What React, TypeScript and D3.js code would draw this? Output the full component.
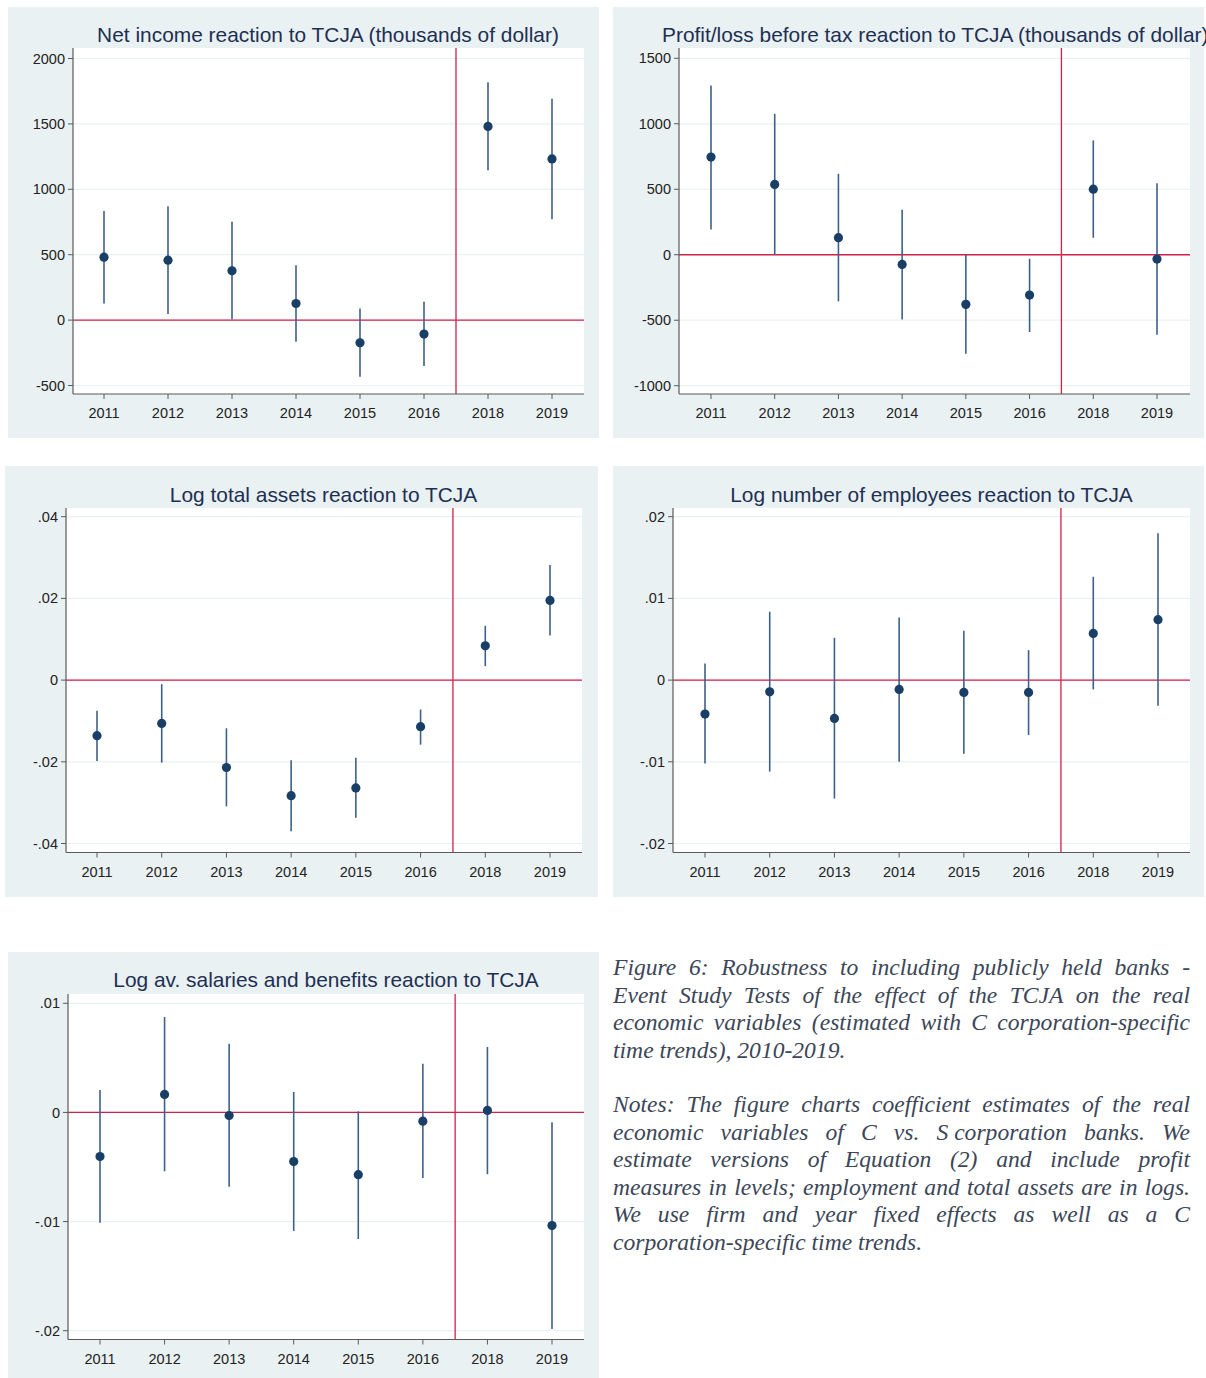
import React, { useMemo } from "react";
import * as d3 from "d3";

// ---------- DATA ----------
const years = ["2011", "2012", "2013", "2014", "2015", "2016", "2018", "2019"];

const netIncomeTitle = "Net income reaction to TCJA (thousands of dollar)";
const netIncomeCoef = [481, 458, 377, 127, -173, -107, 1481, 1232];
const netIncomeLow = [127, 46, 5, -165, -433, -351, 1145, 771];
const netIncomeHigh = [835, 870, 751, 420, 89, 140, 1819, 1692];
const netIncomeTicks = [-500, 0, 500, 1000, 1500, 2000];
const netIncomeTickLabels = ["-500", "0", "500", "1000", "1500", "2000"];

const profitTitle = "Profit/loss before tax reaction to TCJA (thousands of dollar)";
const profitCoef = [746, 537, 130, -74, -379, -308, 501, -33];
const profitLow = [193, 0, -356, -494, -756, -590, 130, -611];
const profitHigh = [1293, 1076, 618, 344, 0, -31, 873, 545];
const profitTicks = [-1000, -500, 0, 500, 1000, 1500];
const profitTickLabels = ["-1000", "-500", "0", "500", "1000", "1500"];

const assetsTitle = "Log total assets reaction to TCJA";
const assetsCoef = [-0.0136, -0.0106, -0.0214, -0.0283, -0.0264, -0.0114, 0.0084, 0.0195];
const assetsLow = [-0.0198, -0.0202, -0.0309, -0.037, -0.0337, -0.0158, 0.0034, 0.0109];
const assetsHigh = [-0.0075, -0.001, -0.0118, -0.0196, -0.019, -0.0072, 0.0133, 0.0282];
const assetsTicks = [-0.04, -0.02, 0, 0.02, 0.04];
const assetsTickLabels = ["-.04", "-.02", "0", ".02", ".04"];

const employeesTitle = "Log number of employees reaction to TCJA";
const employeesCoef = [-0.00416, -0.00143, -0.00469, -0.00114, -0.00151, -0.00151, 0.00571, 0.00739];
const employeesLow = [-0.0102, -0.0112, -0.0145, -0.01, -0.009, -0.00673, -0.00114, -0.00314];
const employeesHigh = [0.00204, 0.00837, 0.00518, 0.00767, 0.00604, 0.00367, 0.01265, 0.01796];
const employeesTicks = [-0.02, -0.01, 0, 0.01, 0.02];
const employeesTickLabels = ["-.02", "-.01", "0", ".01", ".02"];

const salariesTitle = "Log av. salaries and benefits reaction to TCJA";
const salariesCoef = [-0.00404, 0.00165, -0.00028, -0.0045, -0.0057, -0.0008, 0.00018, -0.01037];
const salariesLow = [-0.0101, -0.0054, -0.0068, -0.01086, -0.0116, -0.006, -0.00566, -0.01985];
const salariesHigh = [0.00205, 0.00875, 0.0063, 0.00187, 0.0001, 0.00447, 0.006, -0.00089];
const salariesTicks = [-0.02, -0.01, 0, 0.01];
const salariesTickLabels = ["-.02", "-.01", "0", ".01"];

const captionParagraph1 = [
  "Figure 6: Robustness to including publicly held banks -",
  "Event Study Tests of the effect of the TCJA on the real",
  "economic variables (estimated with C corporation-specific",
  "time trends), 2010-2019.",
];
const captionParagraph2 = [
  "Notes: The figure charts coefficient estimates of the real",
  "economic variables of C vs. S\u00A0corporation banks. We",
  "estimate versions of Equation (2) and include profit",
  "measures in levels; employment and total assets are in logs.",
  "We use firm and year fixed effects as well as a C",
  "corporation-specific time trends.",
];

// ---------- STYLE ----------
const BG = "#eaf1f3";
const GRID = "#eaf1f3";
const AXIS = "#5a5a5a";
const RED = "#d41f49";
const CI = "#3e6088";
const DOT = "#1a3f66";
const TITLE = "#1d2f52";
const TICK = "#222222";
const SANS = "Arimo, 'Liberation Sans', Arial, sans-serif";
const SERIF = "'Liberation Serif', 'Times New Roman', serif";

type Layout = {
  bg: [number, number, number, number];
  l: number; r: number; t: number; b: number;
  x0: number; x1: number;
  yDomain: [number, number];
  yRange: [number, number];
  title: { x: number; y: number; anchor: "start" | "middle" };
};

const panels = [
  {
    title: netIncomeTitle, coef: netIncomeCoef, low: netIncomeLow, high: netIncomeHigh,
    ticks: netIncomeTicks, tickLabels: netIncomeTickLabels,
    layout: { bg: [8, 7, 591, 431], l: 73, r: 584, t: 48, b: 394, x0: 104, x1: 552,
      yDomain: [-500, 2000], yRange: [385.5, 58.5], title: { x: 328, y: 42, anchor: "middle" } } as Layout,
  },
  {
    title: profitTitle, coef: profitCoef, low: profitLow, high: profitHigh,
    ticks: profitTicks, tickLabels: profitTickLabels,
    layout: { bg: [613, 7, 591, 431], l: 679, r: 1190, t: 48, b: 394, x0: 711, x1: 1157,
      yDomain: [-1000, 1500], yRange: [385.7, 58.3], title: { x: 662, y: 42, anchor: "start" } } as Layout,
  },
  {
    title: assetsTitle, coef: assetsCoef, low: assetsLow, high: assetsHigh,
    ticks: assetsTicks, tickLabels: assetsTickLabels,
    layout: { bg: [5, 466, 593, 431], l: 66, r: 582, t: 508, b: 852.5, x0: 97, x1: 550,
      yDomain: [-0.04, 0.04], yRange: [843.5, 516.7], title: { x: 323.5, y: 501.5, anchor: "middle" } } as Layout,
  },
  {
    title: employeesTitle, coef: employeesCoef, low: employeesLow, high: employeesHigh,
    ticks: employeesTicks, tickLabels: employeesTickLabels,
    layout: { bg: [613, 466, 591, 431], l: 673, r: 1190, t: 508, b: 852.5, x0: 705, x1: 1158,
      yDomain: [-0.02, 0.02], yRange: [843.5, 516.7], title: { x: 931.5, y: 501.5, anchor: "middle" } } as Layout,
  },
  {
    title: salariesTitle, coef: salariesCoef, low: salariesLow, high: salariesHigh,
    ticks: salariesTicks, tickLabels: salariesTickLabels,
    layout: { bg: [8, 952, 591, 426], l: 68, r: 584, t: 994, b: 1339.5, x0: 100, x1: 552,
      yDomain: [-0.02, 0.01], yRange: [1330.7, 1003.3], title: { x: 326, y: 987, anchor: "middle" } } as Layout,
  },
];

function Panel(props: {
  title: string; coef: number[]; low: number[]; high: number[];
  ticks: number[]; tickLabels: string[]; layout: Layout;
}) {
  const { title, coef, low, high, ticks, tickLabels, layout: L } = props;
  const x = d3.scaleLinear().domain([0, years.length - 1]).range([L.x0, L.x1]);
  const y = d3.scaleLinear().domain(L.yDomain).range(L.yRange);
  const vx = x(5.5);
  return (
    <g>
      <rect x={L.bg[0]} y={L.bg[1]} width={L.bg[2]} height={L.bg[3]} fill={BG} />
      <rect x={L.l} y={L.t} width={L.r - L.l} height={L.b - L.t} fill="#ffffff" />
      {ticks.map((t, i) => (
        <line key={"g" + i} x1={L.l} x2={L.r} y1={y(t)} y2={y(t)} stroke={GRID} strokeWidth={1.2} />
      ))}
      <line x1={L.l} x2={L.r} y1={y(0)} y2={y(0)} stroke={RED} strokeWidth={1.3} />
      <line x1={vx} x2={vx} y1={L.t} y2={L.b} stroke={RED} strokeWidth={1.3} />
      {coef.map((c, i) => (
        <line key={"ci" + i} x1={x(i)} x2={x(i)} y1={y(low[i])} y2={y(high[i])} stroke={CI} strokeWidth={1.6} />
      ))}
      {coef.map((c, i) => (
        <circle key={"pt" + i} cx={x(i)} cy={y(c)} r={4.6} fill={DOT} />
      ))}
      <line x1={L.l} x2={L.l} y1={L.t} y2={L.b} stroke={AXIS} strokeWidth={1.2} />
      <line x1={L.l} x2={L.r} y1={L.b} y2={L.b} stroke={AXIS} strokeWidth={1.2} />
      {ticks.map((t, i) => (
        <g key={"yt" + i}>
          <line x1={L.l - 5} x2={L.l} y1={y(t)} y2={y(t)} stroke={AXIS} strokeWidth={1} />
          <text x={L.l - 8} y={y(t)} dy="0.35em" textAnchor="end" fontFamily={SANS} fontSize={14.5} fill={TICK}>
            {tickLabels[i]}
          </text>
        </g>
      ))}
      {years.map((yr, i) => (
        <g key={"xt" + i}>
          <line x1={x(i)} x2={x(i)} y1={L.b} y2={L.b + 5} stroke={AXIS} strokeWidth={1} />
          <text x={x(i)} y={L.b + 24} textAnchor="middle" fontFamily={SANS} fontSize={14.5} fill={TICK}>
            {yr}
          </text>
        </g>
      ))}
      <text x={L.title.x} y={L.title.y} textAnchor={L.title.anchor} fontFamily={SANS} fontSize={20.9} fill={TITLE}>
        {title}
      </text>
    </g>
  );
}

const CAP_FONT_SIZE = 23.6;
const CAP_FONT = `italic ${CAP_FONT_SIZE}px 'Liberation Serif'`;

let measureCtx: CanvasRenderingContext2D | null = null;
function measure(s: string): number {
  if (!measureCtx) {
    const c = document.createElement("canvas");
    measureCtx = c.getContext("2d");
  }
  if (!measureCtx) return s.length * CAP_FONT_SIZE * 0.42;
  measureCtx.font = CAP_FONT;
  return measureCtx.measureText(s).width;
}

function JustifiedLine(props: { text: string; x: number; y: number; width: number; justify: boolean }) {
  const { text, x, y, width, justify } = props;
  const words = text.split(" ");
  if (!justify || words.length < 2) {
    return (
      <text x={x} y={y} fontFamily={SERIF} fontStyle="italic" fontSize={CAP_FONT_SIZE} fill="#3c4658">
        {text}
      </text>
    );
  }
  const widths = words.map(measure);
  const total = widths.reduce((a, b) => a + b, 0);
  const gap = (width - total) / (words.length - 1);
  let cx = x;
  const positions = widths.map((w) => {
    const p = cx;
    cx += w + gap;
    return p;
  });
  return (
    <text y={y} fontFamily={SERIF} fontStyle="italic" fontSize={CAP_FONT_SIZE} fill="#3c4658">
      {words.map((w, i) => (
        <tspan key={i} x={positions[i]}>{w}</tspan>
      ))}
    </text>
  );
}

function Caption() {
  const left = 613;
  const right = 1190;
  const lh = 27.5;
  const p1y = 975;
  const p2y = 1112;
  return (
    <g>
      {captionParagraph1.map((t, i) => (
        <JustifiedLine key={"a" + i} text={t} x={left} y={p1y + i * lh} width={right - left}
          justify={i < captionParagraph1.length - 1} />
      ))}
      {captionParagraph2.map((t, i) => (
        <JustifiedLine key={"b" + i} text={t} x={left} y={p2y + i * lh} width={right - left}
          justify={i < captionParagraph2.length - 1} />
      ))}
    </g>
  );
}

export default function App() {
  const content = useMemo(() => panels.map((p, i) => <Panel key={i} {...p} />), []);
  return (
    <svg
      width={1206}
      height={1378}
      viewBox="0 0 1206 1378"
      style={{ position: "absolute", left: 0, top: 0, background: "#ffffff" }}
    >
      <rect x={0} y={0} width={1206} height={1378} fill="#ffffff" />
      {content}
      <Caption />
    </svg>
  );
}
